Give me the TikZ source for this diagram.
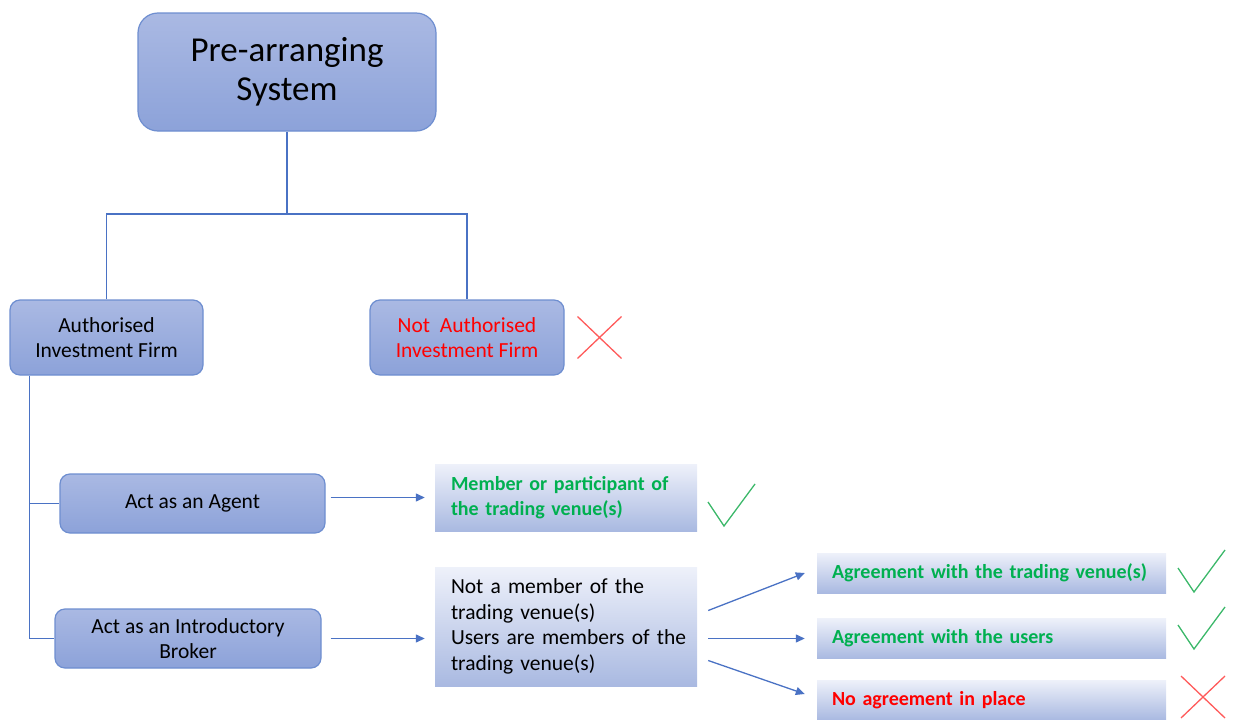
\documentclass[tikz,border=0pt]{standalone}
\usepackage{fontspec}
\setmainfont{Carlito}
\usetikzlibrary{arrows.meta,positioning}

\definecolor{boxtop}{HTML}{AAB9E3}
\definecolor{boxbot}{HTML}{8CA2D9}
\definecolor{boxline}{HTML}{6E8ED0}
\definecolor{linkblue}{HTML}{4A72C4}
\definecolor{okgreen}{HTML}{00B050}
\definecolor{nogred}{HTML}{FF0000}
\definecolor{tickgreen}{HTML}{3CB86A}
\definecolor{crossred}{HTML}{FF5A5A}
\definecolor{paletop}{HTML}{EEF1FA}
\definecolor{palebot}{HTML}{A9B9E1}

\newcommand{\prefont}{\fontsize{35}{39}\selectfont}
\newcommand{\boxtextfont}{\fontsize{21.5}{25.5}\selectfont}
\newcommand{\marktextfont}{\fontsize{20}{25}\selectfont\bfseries}

\tikzset{
  roundbox/.style={draw=boxline, line width=1.2pt, rounded corners=10pt,
    top color=boxtop, bottom color=boxbot, align=center, inner sep=0pt,
    font=\boxtextfont},
  palebox/.style={top color=paletop, bottom color=palebot, inner sep=0pt,
    align=left, font=\boxtextfont},
  link/.style={draw=linkblue, line width=1.3pt},
  arr/.style={link, -{Triangle[length=9pt,width=8pt]}},
  pics/okmark/.style={code={\draw[tickgreen, line width=1.3pt] (-16,-24) -- (0,0) -- (31,-42);}},
  pics/nomark/.style={code={\draw[crossred, line width=1.3pt] (-22,-21) -- (22,21) (-22,21) -- (22,-21);}},
}

\begin{document}
\begin{tikzpicture}[x=1pt, y=-1pt]
    \useasboundingbox (0,0) rectangle (1235,720);

    % Top of the tree
    \node[roundbox, rounded corners=20pt, minimum width=298pt, minimum height=118pt, font=\prefont] (pre) at (287,72) {Pre-arranging\\System};

    % Firms
    \node[roundbox, minimum width=193pt, minimum height=75pt] (auth) at (106.5,337.5) {Authorised\\Investment Firm};
    \node[roundbox, minimum width=194pt, minimum height=75pt, text=nogred] (notauth) at (467,337.5) {Not\ \ Authorised\\Investment Firm};
    \pic at (599.5,337.5) {nomark};

    \coordinate (fork) at (287,214);
    \draw[link] (pre.south) -- (fork);
    \draw[link] (auth.north) |- (fork) -| (notauth.north);

    % Roles
    \node[roundbox, minimum width=265pt, minimum height=59pt] (agent) at (192.5,503.5) {Act as an Agent};
    \node[roundbox, minimum width=266pt, minimum height=59pt] (ib) at (188,638.5) {Act as an Introductory\\Broker};

    \coordinate (trunk) at ([xshift=20pt]auth.south west);
    \draw[link] (trunk) |- (agent.west);
    \draw[link] (trunk) |- (ib.west);

    % Outcomes
    \node[palebox, text width=230pt, inner xsep=16pt, minimum height=67pt, text=okgreen, font=\marktextfont] (member) at (566,497.5) {Member or participant of\\the trading venue(s)};
    \pic at (724,526) {okmark};
    \node[palebox, text width=230pt, inner xsep=16pt, minimum height=119pt] (notmember) at (566,626.5) {\mbox{Not a member of the}\\\mbox{trading venue(s)}\\\mbox{Users are members of the}\\\mbox{trading venue(s)}};

    \draw[arr, shorten <=5pt, shorten >=10pt] (agent.east |- member.west) -- (member.west);
    \draw[arr, shorten <=9pt, shorten >=10pt] (ib.east) -- (notmember.west |- ib.east);

    % Agreements
    \node[palebox, text width=319pt, inner xsep=15pt, minimum height=40pt, text=okgreen, font=\marktextfont] (agr1) at (991.5,573) {Agreement with the trading venue(s)};
    \node[palebox, text width=319pt, inner xsep=15pt, minimum height=40pt, text=okgreen, font=\marktextfont] (agr2) at (991.5,638.5) {Agreement with the users};
    \node[palebox, text width=319pt, inner xsep=15pt, minimum height=40pt, text=nogred, font=\marktextfont] (agr3) at (991.5,700) {No agreement in place};
    \pic at (1194,592) {okmark};
    \pic at (1194,649) {okmark};
    \pic at (1203,697) {nomark};

    \draw[arr] ([shift={(11,-16)}]notmember.east) -- ([xshift=-12pt]agr1.west);
    \draw[arr, shorten <=11pt, shorten >=12pt] (notmember.east |- agr2.west) -- (agr2.west);
    \draw[arr] ([shift={(11,34)}]notmember.east) -- ([shift={(-12,-6)}]agr3.west);

  \end{tikzpicture}
\end{document}
